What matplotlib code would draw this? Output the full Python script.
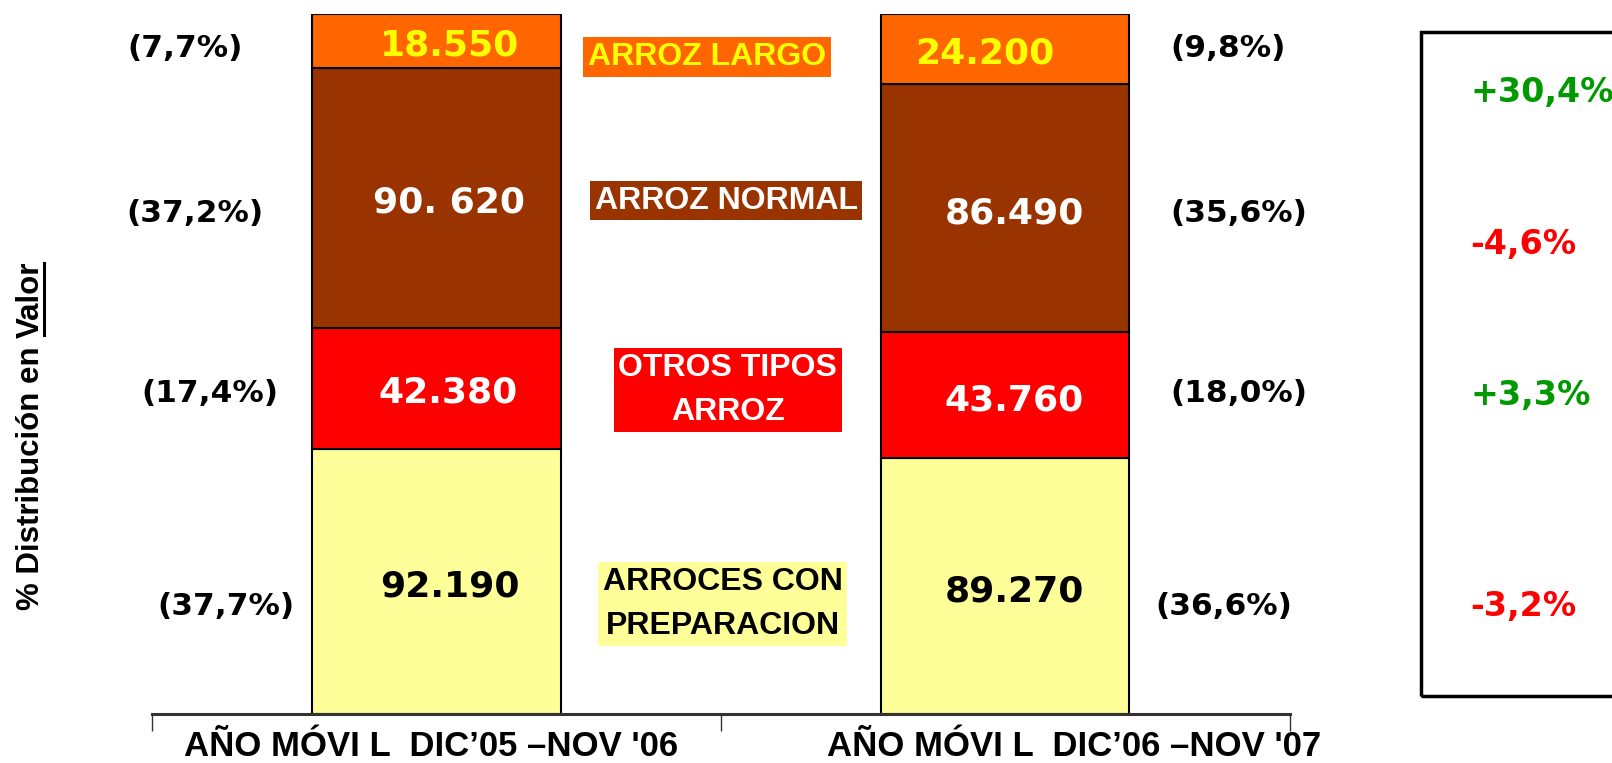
import matplotlib
matplotlib.use("Agg")
import matplotlib.pyplot as plt
import matplotlib.transforms as mtransforms
from matplotlib.patches import Rectangle
from matplotlib.lines import Line2D
import numpy as np

# stacked from bottom to top
categories = ["ARROCES CON\nPREPARACION", "OTROS TIPOS\nARROZ", "ARROZ NORMAL", "ARROZ LARGO"]
periods = ["AÑO MÓVI L  DIC\u201905 \u2013NOV '06", "AÑO MÓVI L  DIC\u201906 \u2013NOV '07"]
values_0506 = [92190, 42380, 90620, 18550]
values_0607 = [89270, 43760, 86490, 24200]
value_labels_0506 = ["92.190", "42.380", "90. 620", "18.550"]
value_labels_0607 = ["89.270", "43.760", "86.490", "24.200"]
share_labels_0506 = ["(37,7%)", "(17,4%)", "(37,2%)", "(7,7%)"]
share_labels_0607 = ["(36,6%)", "(18,0%)", "(35,6%)", "(9,8%)"]
changes = ["-3,2%", "+3,3%", "-4,6%", "+30,4%"]

seg_colors = ["#FFFF99", "#FF0000", "#993300", "#FF6600"]
num_colors = ["black", "white", "white", "#FFFF00"]
cat_text_colors = ["black", "white", "white", "#FFFF00"]
green = "#009900"
red = "#FF0000"

BOLD = ["DejaVu Sans"]
NARROW = ["Liberation Sans Narrow", "Liberation Sans", "DejaVu Sans"]

fig = plt.figure(figsize=(16.12, 7.63), dpi=100)
ax = fig.add_axes([0.0943, 0.0642, 0.7059, 0.9169])

data = np.array([values_0506, values_0607], dtype=float)
shares = data / data.sum(axis=1, keepdims=True) * 100
x = np.arange(2)
bottom = np.zeros(2)
for i in range(len(categories)):
    ax.bar(x, shares[:, i], bottom=bottom, width=0.436, color=seg_colors[i],
           edgecolor="black", linewidth=1.5, zorder=2)
    bottom += shares[:, i]

ax.set_xlim(-0.5, 1.5)
ax.set_ylim(0, 100)
for s in ["top", "right", "left"]:
    ax.spines[s].set_visible(False)
ax.spines["bottom"].set_linewidth(2.2)
ax.spines["bottom"].set_color("#333333")
ax.set_yticks([])
ax.set_xticks([-0.5, 0.5, 1.5])
ax.set_xticklabels([])
ax.tick_params(axis="x", direction="out", length=12, width=1, color="#333333")

# label positions (layout only)
num_y_0506 = [18.2, 46.0, 73.1, 95.5]
num_y_0607 = [17.5, 44.8, 71.5, 94.4]
num_x_0506 = [0.023, 0.020, 0.022, 0.023]
num_x_0607 = [1.016, 1.016, 1.016, 0.964]
share_y = [15.4, 45.8, 71.5, 95.2]
share_x_0506 = [-0.370, -0.398, -0.424, -0.442]
share_x_0607 = [1.383, 1.410, 1.410, 1.392]
cat_y = [15.7, 46.3, 73.4, 93.9]
cat_x = [0.503, 0.512, 0.509, 0.476]
change_y = [15.4, 45.5, 67.1, 88.8]

for i in range(len(categories)):
    ax.text(num_x_0506[i], num_y_0506[i], value_labels_0506[i], ha="center", va="center",
            fontsize=26, fontweight="bold", color=num_colors[i], family=BOLD, zorder=3)
    ax.text(num_x_0607[i], num_y_0607[i], value_labels_0607[i], ha="center", va="center",
            fontsize=26, fontweight="bold", color=num_colors[i], family=BOLD, zorder=3)
    ax.text(share_x_0506[i], share_y[i], share_labels_0506[i], ha="center", va="center",
            fontsize=22.5, fontweight="bold", color="black", family=BOLD)
    ax.text(share_x_0607[i], share_y[i], share_labels_0607[i], ha="center", va="center",
            fontsize=22.5, fontweight="bold", color="black", family=BOLD)
    ax.text(cat_x[i], cat_y[i], categories[i], ha="center", va="center", fontsize=23,
            fontweight="bold", color=cat_text_colors[i], family=NARROW, linespacing=1.6,
            bbox=dict(boxstyle="square,pad=0.15", fc=seg_colors[i], ec="none"))

# period labels under the axis
period_x = [-0.01, 1.12]
for j in range(2):
    ax.text(period_x[j], -6.0, periods[j], ha="center", va="baseline", fontsize=25,
            fontweight="bold", family=NARROW, clip_on=False)

# change box on the right
fig.patches.append(Rectangle((0.8815, 0.0878), 0.2, 0.8702, transform=fig.transFigure,
                             fill=False, ec="black", lw=2.5))
trans = mtransforms.blended_transform_factory(fig.transFigure, ax.transData)
for i in range(len(changes)):
    col = green if changes[i].startswith("+") else red
    ax.text(0.912, change_y[i], changes[i], transform=trans, ha="left", va="center",
            fontsize=24, fontweight="bold", color=col, family=BOLD, clip_on=False)

# y label with underlined "Valor"
YFONT = ["Liberation Sans", "DejaVu Sans"]
t1 = fig.text(0.019, 0.2, "% Distribución en ", rotation=90, ha="center", va="bottom",
              fontsize=22.5, fontweight="bold", family=YFONT)
fig.canvas.draw()
r = fig.canvas.get_renderer()
bb1 = t1.get_window_extent(r).transformed(fig.transFigure.inverted())
t2 = fig.text(0.019, bb1.y1, "Valor", rotation=90, ha="center", va="bottom",
              fontsize=22.5, fontweight="bold", family=YFONT)
fig.canvas.draw()
bb2 = t2.get_window_extent(r).transformed(fig.transFigure.inverted())
ux = bb2.x1 - 0.001
fig.lines.append(Line2D([ux, ux], [bb2.y0 + 0.004, bb2.y1 - 0.002], transform=fig.transFigure,
                        color="black", lw=2.2))

fig.savefig("out.png", dpi=100)
